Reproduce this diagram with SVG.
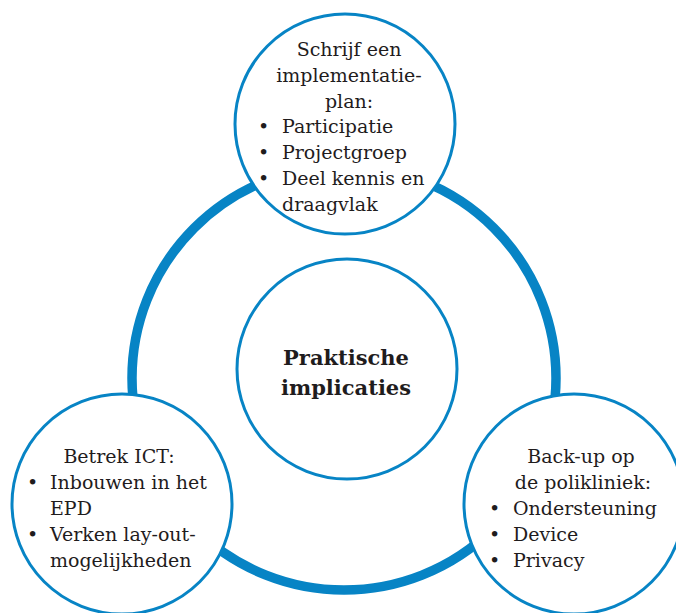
<svg xmlns="http://www.w3.org/2000/svg" width="676" height="613" viewBox="0 0 676 613">
  <style>
    .ring { fill: none; stroke: #0784c5; stroke-width: 9.5; }
    .node { fill: #ffffff; stroke: #0784c5; stroke-width: 3; }
    .txt { font-family: "DejaVu Serif", "Liberation Serif", serif; font-size: 19px; fill: #1f1c1d; }
    .c { text-anchor: middle; }
    .title { font-family: "DejaVu Serif", "Liberation Serif", serif; font-size: 21px; font-weight: bold; fill: #1f1c1d; text-anchor: middle; }
  </style>

  <!-- connecting ring behind the nodes -->
  <g id="connectors">
    <circle class="ring" cx="344" cy="378" r="212"/>
  </g>

  <g id="node-plan">
    <circle class="node" cx="345" cy="124" r="110"/>
    <text class="txt c" x="349" y="56">Schrijf een</text>
    <text class="txt c" x="349" y="82">implementatie-</text>
    <text class="txt c" x="349" y="108">plan:</text>
    <text class="txt" x="258" y="133">•</text>
    <text class="txt" x="282" y="133">Participatie</text>
    <text class="txt" x="258" y="159">•</text>
    <text class="txt" x="282" y="159">Projectgroep</text>
    <text class="txt" x="258" y="185">•</text>
    <text class="txt" x="282" y="185">Deel kennis en</text>
    <text class="txt" x="282" y="211">draagvlak</text>
  </g>

  <g id="node-center">
    <circle class="node" cx="347" cy="369" r="110"/>
    <text class="title" x="346" y="365">Praktische</text>
    <text class="title" x="346" y="395">implicaties</text>
  </g>

  <g id="node-ict">
    <circle class="node" cx="122" cy="504" r="110"/>
    <text class="txt c" x="119" y="463">Betrek ICT:</text>
    <text class="txt" x="27" y="489">•</text>
    <text class="txt" x="50" y="489">Inbouwen in het</text>
    <text class="txt" x="50" y="515">EPD</text>
    <text class="txt" x="27" y="541">•</text>
    <text class="txt" x="50" y="541">Verken lay-out-</text>
    <text class="txt" x="50" y="567">mogelijkheden</text>
  </g>

  <g id="node-backup">
    <circle class="node" cx="574" cy="504" r="110"/>
    <text class="txt c" x="581" y="463">Back-up op</text>
    <text class="txt c" x="583" y="489">de polikliniek:</text>
    <text class="txt" x="489" y="515">•</text>
    <text class="txt" x="513" y="515">Ondersteuning</text>
    <text class="txt" x="489" y="541">•</text>
    <text class="txt" x="513" y="541">Device</text>
    <text class="txt" x="489" y="567">•</text>
    <text class="txt" x="513" y="567">Privacy</text>
  </g>
</svg>
